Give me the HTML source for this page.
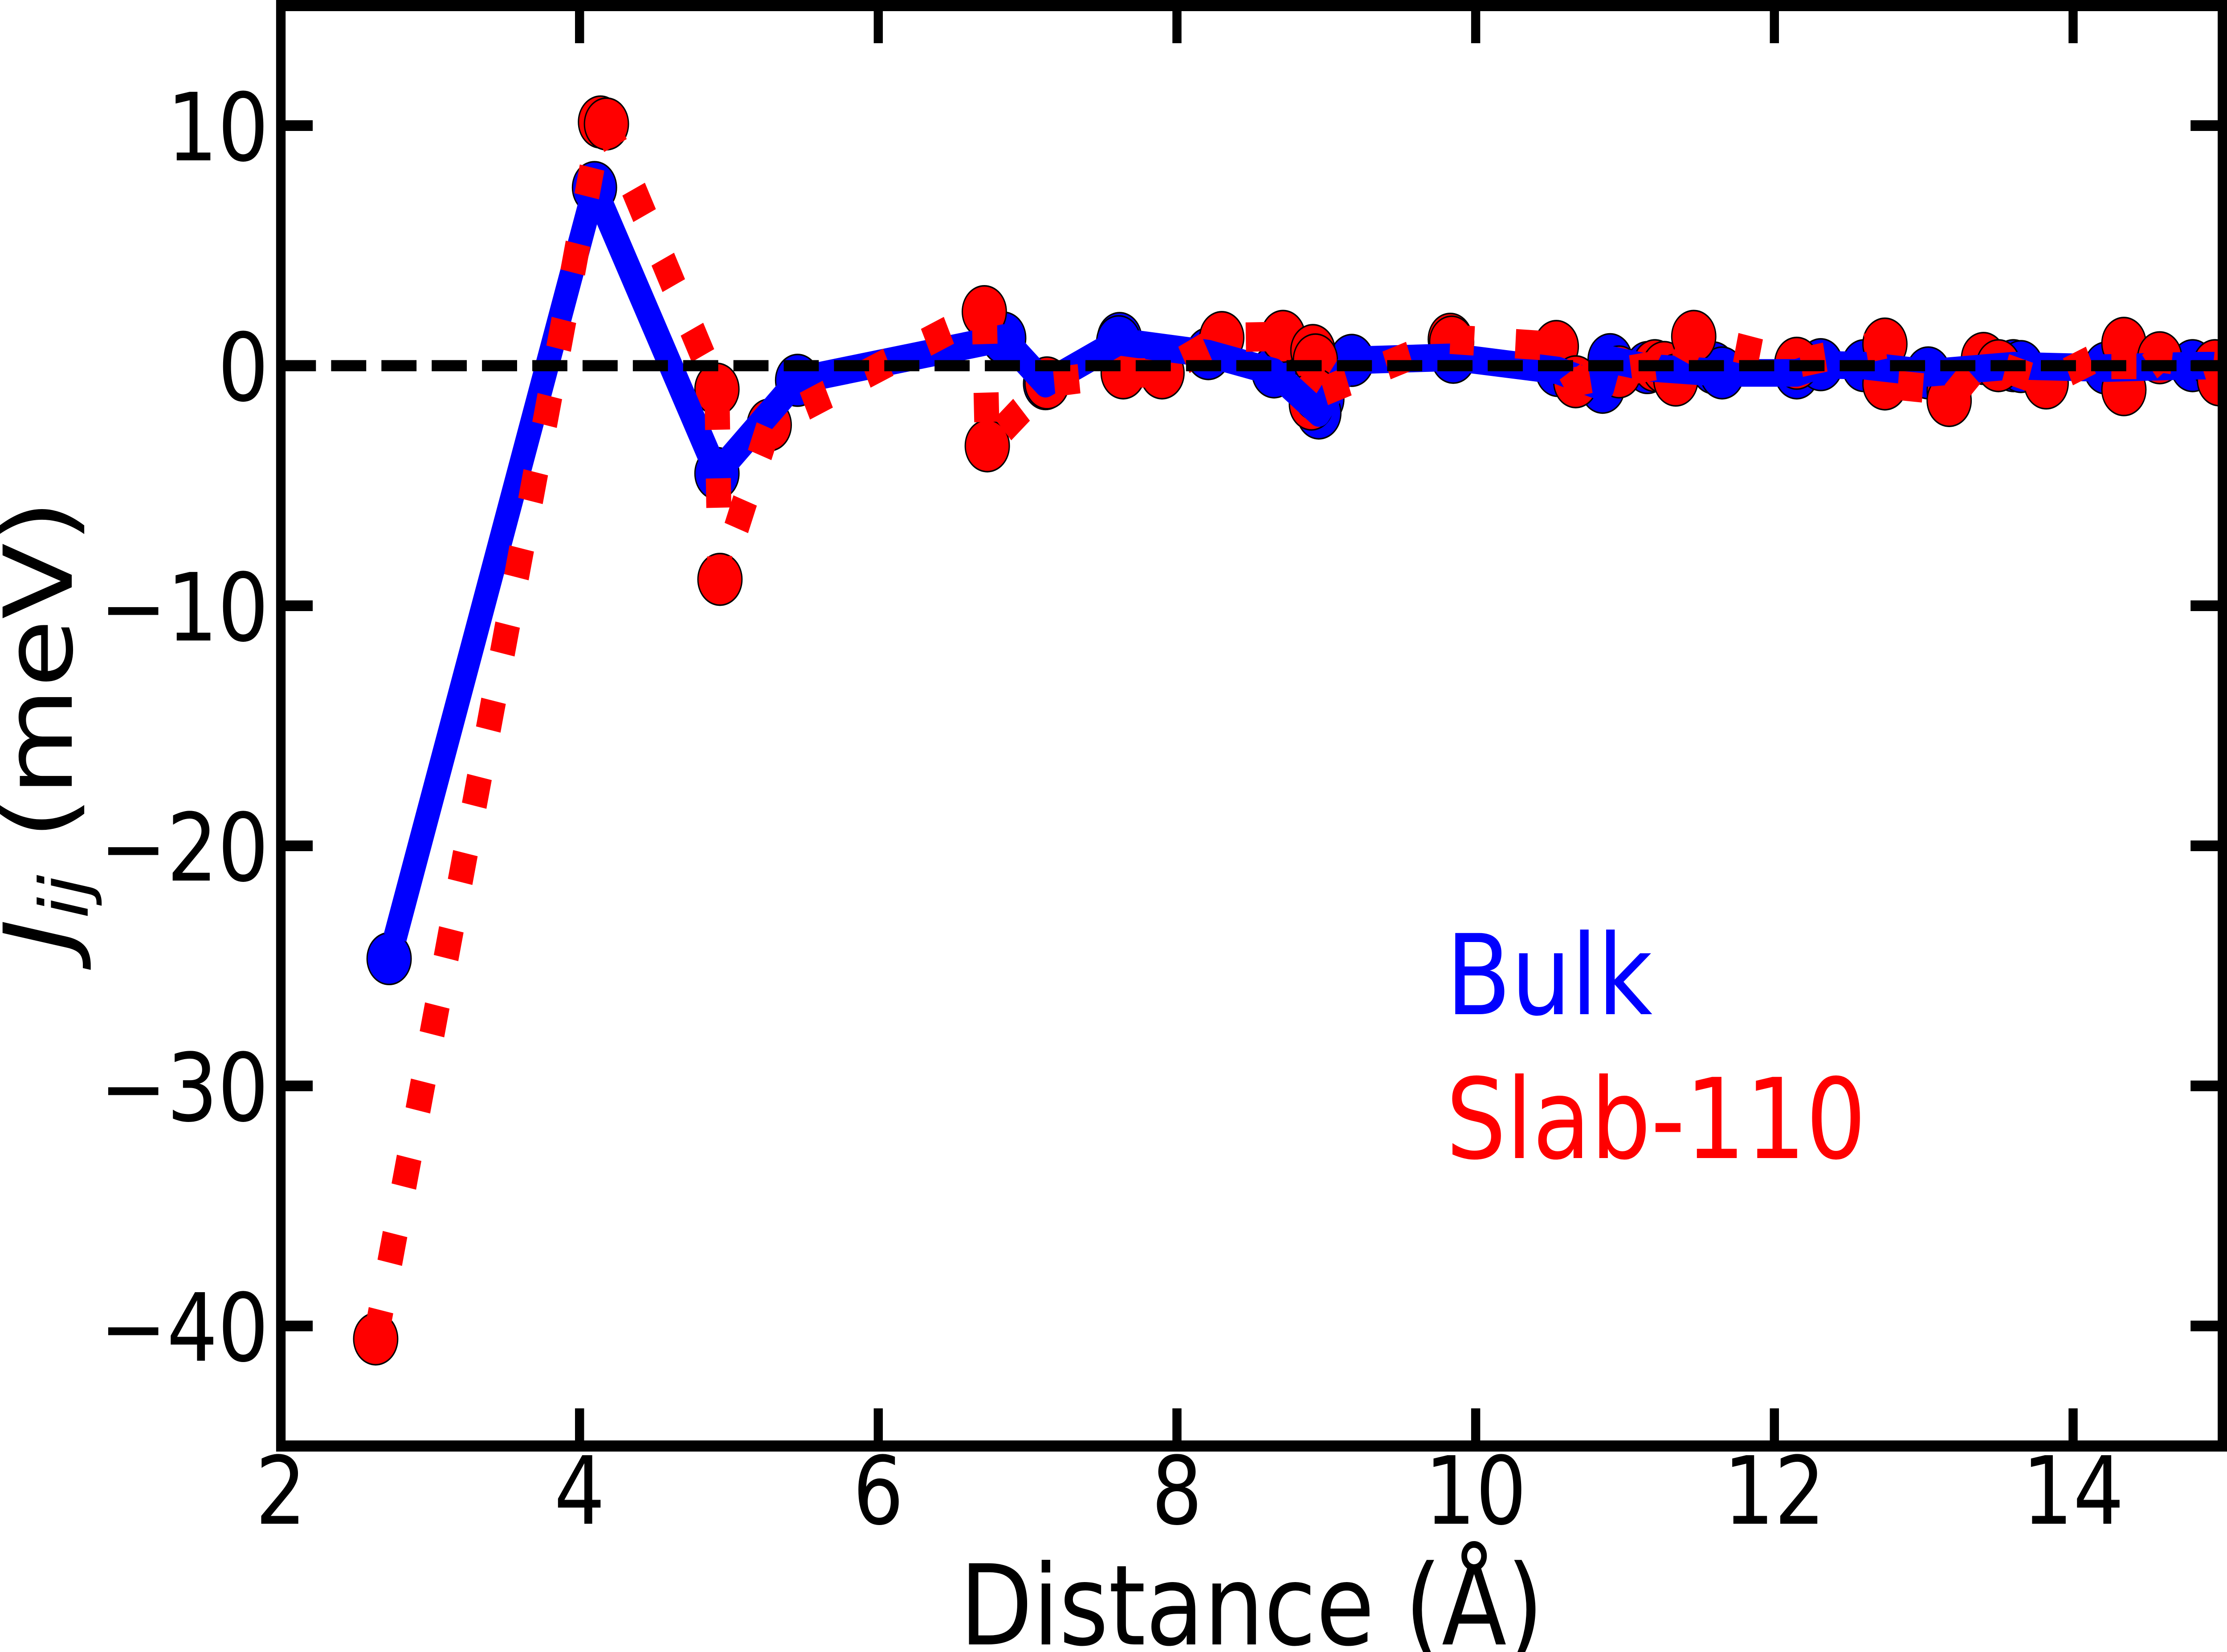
<!DOCTYPE html>
<html><head><meta charset="utf-8"><style>html,body{margin:0;padding:0;background:#fff;width:100%;height:100%;overflow:hidden}svg{display:block;width:100vw;height:100vh}</style></head><body>
<svg xmlns="http://www.w3.org/2000/svg" viewBox="0 0 5868 3709" preserveAspectRatio="none">
<rect width="5868" height="3709" fill="#fff"/>
<defs><clipPath id="c"><rect x="740" y="12.5" width="5116" height="3234"/></clipPath></defs>
<g clip-path="url(#c)">
<g fill="#0000ff" stroke="#000" stroke-width="3.5">
<circle cx="1025.3" cy="2152.3" r="58"/><circle cx="1566.4" cy="421.1" r="58"/><circle cx="1889.1" cy="1063" r="58"/><circle cx="2101.6" cy="853.9" r="58"/><circle cx="2644.7" cy="759" r="58"/><circle cx="2754.9" cy="861.4" r="58"/><circle cx="2950" cy="760" r="58"/><circle cx="2947.7" cy="767.1" r="58"/><circle cx="3183.8" cy="794" r="58"/><circle cx="3357" cy="835" r="58"/><circle cx="3483" cy="896" r="58"/><circle cx="3475.1" cy="927.2" r="58"/><circle cx="3561.7" cy="809.1" r="58"/><circle cx="3829.3" cy="802.1" r="58"/><circle cx="4104.7" cy="831.8" r="58"/><circle cx="4222.8" cy="869.5" r="58"/><circle cx="4242.5" cy="807.5" r="58"/><circle cx="4340.9" cy="825.3" r="58"/><circle cx="4515" cy="826" r="58"/><circle cx="4537.6" cy="837.2" r="58"/><circle cx="4734.4" cy="837.2" r="58"/><circle cx="4797.4" cy="818.8" r="58"/><circle cx="4911.5" cy="821" r="58"/><circle cx="5080.7" cy="837.2" r="58"/><circle cx="5305" cy="821" r="58"/><circle cx="5325" cy="823" r="58"/><circle cx="5549" cy="826.4" r="58"/><circle cx="5777.3" cy="821" r="58"/><circle cx="5895.4" cy="821" r="58"/>
</g>
<g fill="#ff0000" stroke="#000" stroke-width="3.5">
<circle cx="989.9" cy="3006.1" r="58"/><circle cx="1582.2" cy="273.9" r="58"/><circle cx="1597.9" cy="278.2" r="58"/><circle cx="1889.1" cy="873.8" r="58"/><circle cx="1897" cy="1300.7" r="58"/><circle cx="2026.9" cy="954.1" r="58"/><circle cx="2593.6" cy="699.7" r="58"/><circle cx="2601.4" cy="1001" r="58"/><circle cx="2758.8" cy="859.8" r="58"/><circle cx="2959.5" cy="837.2" r="58"/><circle cx="3061.9" cy="837.2" r="58"/><circle cx="3219.3" cy="757.9" r="58"/><circle cx="3380.6" cy="755.2" r="58"/><circle cx="3459.3" cy="787" r="58"/><circle cx="3466" cy="808" r="58"/><circle cx="3455.4" cy="907.2" r="58"/><circle cx="3467.2" cy="885.7" r="58"/><circle cx="3821.4" cy="761.7" r="58"/><circle cx="3825" cy="768" r="58"/><circle cx="4100.8" cy="777.9" r="58"/><circle cx="4151.9" cy="857.1" r="58"/><circle cx="4266.1" cy="835" r="58"/><circle cx="4360.5" cy="821" r="58"/><circle cx="4385" cy="825" r="58"/><circle cx="4415.6" cy="853.3" r="58"/><circle cx="4462.9" cy="755.2" r="58"/><circle cx="4734.4" cy="815.6" r="58"/><circle cx="4966.6" cy="772.5" r="58"/><circle cx="4966.6" cy="862" r="58"/><circle cx="5135.9" cy="877.1" r="58"/><circle cx="5135.9" cy="899.2" r="58"/><circle cx="5226.3" cy="804.8" r="58"/><circle cx="5265.7" cy="821" r="58"/><circle cx="5391.6" cy="859.8" r="58"/><circle cx="5596.3" cy="770.9" r="58"/><circle cx="5596.3" cy="874.9" r="58"/><circle cx="5690.7" cy="803.2" r="58"/><circle cx="5836.3" cy="821" r="58"/><circle cx="5848" cy="853" r="58"/>
</g>
<polyline fill="none" stroke="#0000ff" stroke-width="62" stroke-linejoin="round" stroke-linecap="butt" points="1041,2105 1566.4,421.1 1889.1,1063 2101.6,853.9 2644.7,759 2754.9,861.4 2947.7,767.1 3183.8,794 3357,835 3475.1,927.2 3561.7,809.1 3829.3,802.1 4104.7,831.8 4222.8,869.5 4242.5,807.5 4340.9,825.3 4537.6,837.2 4734.4,837.2 4797.4,818.8 4911.5,821 5080.7,837.2 5305,821 5549,826.4 5777.3,821 5895.4,821"/>
<polyline fill="none" stroke="#ff0000" stroke-width="66" stroke-linejoin="round" stroke-linecap="butt" stroke-dasharray="66 109" points="989.9,3006.1 1582.2,273.9 1597.9,278.2 1889.1,873.8 1897,1300.7 2026.9,954.1 2593.6,699.7 2601.4,1001 2758.8,859.8 2959.5,837.2 3061.9,837.2 3219.3,757.9 3380.6,755.2 3459.3,787 3455.4,907.2 3467.2,885.7 3821.4,761.7 4100.8,777.9 4151.9,857.1 4266.1,835 4360.5,821 4415.6,853.3 4462.9,755.2 4734.4,815.6 4966.6,772.5 4966.6,862 5135.9,877.1 5135.9,899.2 5226.3,804.8 5265.7,821 5391.6,859.8 5596.3,770.9 5596.3,874.9 5690.7,803.2 5836.3,821 5848,853"/>
<line x1="740" y1="821" x2="5856" y2="821" stroke="#000" stroke-width="25" stroke-dasharray="92.5 40"/>
</g>
<g stroke="#000" stroke-width="24">
<line x1="1527.1" y1="3246.5" x2="1527.1" y2="3162"/><line x1="2314.2" y1="3246.5" x2="2314.2" y2="3162"/><line x1="3101.2" y1="3246.5" x2="3101.2" y2="3162"/><line x1="3888.3" y1="3246.5" x2="3888.3" y2="3162"/><line x1="4675.4" y1="3246.5" x2="4675.4" y2="3162"/><line x1="5462.5" y1="3246.5" x2="5462.5" y2="3162"/>
<line x1="1527.1" y1="12.5" x2="1527.1" y2="97"/><line x1="2314.2" y1="12.5" x2="2314.2" y2="97"/><line x1="3101.2" y1="12.5" x2="3101.2" y2="97"/><line x1="3888.3" y1="12.5" x2="3888.3" y2="97"/><line x1="4675.4" y1="12.5" x2="4675.4" y2="97"/><line x1="5462.5" y1="12.5" x2="5462.5" y2="97"/>
<line x1="740" y1="282" x2="824" y2="282"/><line x1="740" y1="821" x2="824" y2="821"/><line x1="740" y1="1360" x2="824" y2="1360"/><line x1="740" y1="1899" x2="824" y2="1899"/><line x1="740" y1="2438" x2="824" y2="2438"/><line x1="740" y1="2977" x2="824" y2="2977"/>
<line x1="5856" y1="282" x2="5772" y2="282"/><line x1="5856" y1="821" x2="5772" y2="821"/><line x1="5856" y1="1360" x2="5772" y2="1360"/><line x1="5856" y1="1899" x2="5772" y2="1899"/><line x1="5856" y1="2438" x2="5772" y2="2438"/><line x1="5856" y1="2977" x2="5772" y2="2977"/>
</g>
<rect x="740" y="12.5" width="5116" height="3234" fill="none" stroke="#000" stroke-width="25"/>
<g font-family="'DejaVu Sans','Liberation Sans',sans-serif" font-size="211" fill="#000">
<g text-anchor="end">
<text x="708" y="360">10</text><text x="708" y="899">0</text><text x="708" y="1438">−10</text><text x="708" y="1977">−20</text><text x="708" y="2516">−30</text><text x="708" y="3055">−40</text>
</g>
<g text-anchor="middle">
<text x="740" y="3421">2</text><text x="1527.1" y="3421">4</text><text x="2314.2" y="3421">6</text><text x="3101.2" y="3421">8</text><text x="3888.3" y="3421">10</text><text x="4675.4" y="3421">12</text><text x="5462.5" y="3421">14</text>
</g>
</g>
<g font-family="'DejaVu Sans','Liberation Sans',sans-serif" font-size="250">
<text x="3298" y="3692" text-anchor="middle" fill="#000">Distance (Å)</text>
<text transform="translate(189,1629) rotate(-90)" text-anchor="middle" fill="#000"><tspan font-style="italic">J</tspan><tspan font-style="italic" font-size="177" dy="42">ij</tspan><tspan dy="-42"> (meV)</tspan></text>
<text x="3810" y="2277" fill="#0000ff">Bulk</text>
<text x="3810" y="2600" fill="#ff0000">Slab-110</text>
</g>
</svg>
</body></html>
